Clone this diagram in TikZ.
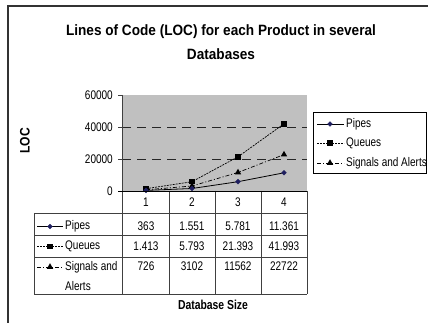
\documentclass[tikz,border=0pt]{standalone}
\usepackage{fontspec}
\setmainfont{Liberation Sans}
\usetikzlibrary{shapes.geometric}
\definecolor{framegray}{HTML}{333333}
\definecolor{plotgray}{HTML}{C0C0C0}
\definecolor{gridline}{HTML}{404040}
\definecolor{pipesblue}{HTML}{1F1F5F}
% chart text is set slightly taller than the font's natural proportions
\newcommand{\tallt}[1]{\scalebox{1}[1.25]{#1}}
\newcommand{\tallh}[1]{\scalebox{1}[1.1]{#1}}
\begin{document}
\begin{tikzpicture}[x=1pt,y=-1pt,
  txt/.style={font=\fontsize{10}{12}\selectfont, inner sep=0pt},
  boldtxt/.style={font=\bfseries\fontsize{10.4}{12}\selectfont, inner sep=0pt},
  titletxt/.style={font=\bfseries\fontsize{13.6}{16}\selectfont, inner sep=0pt},
  pipesline/.style={draw=black, line width=0.8pt},
  queuesline/.style={draw=black, line width=0.7pt, dash pattern=on 2pt off 1pt},
  signalsline/.style={draw=black, line width=0.7pt, dash pattern=on 4pt off 2pt on 1pt off 2pt},
  dmark/.style={diamond, fill=pipesblue, draw=pipesblue, inner sep=0pt, minimum size=5pt},
  smark/.style={rectangle, fill=black, inner sep=0pt, minimum size=5.5pt},
  tmark/.style={regular polygon, regular polygon sides=3, fill=black, inner sep=0pt, minimum size=7.5pt},
  tbl/.style={draw=gridline, line width=0.7pt}
]
\useasboundingbox (0,0) rectangle (429,323);

% outer chart frame
\coordinate (frameBL) at (8,323);
\coordinate (frameTL) at (8,6);
\coordinate (frameTR) at (428,6);
\draw[framegray, line width=2pt] (frameBL) -- (frameTL) -- (frameTR);

% title
\node[titletxt] (title1) at (221,32) {\tallh{Lines of Code (LOC) for each Product in several}};
\node[titletxt] (title2) at (221,54) {\tallh{Databases}};

% plot area
\fill[plotgray] (122,95) rectangle (307,191);
\coordinate (g40L) at (122,127); \coordinate (g40R) at (307,127);
\coordinate (g20L) at (122,159); \coordinate (g20R) at (307,159);
\draw[black!85, line width=0.8pt, dash pattern=on 9pt off 6pt] (g40L) -- (g40R);
\draw[black!85, line width=0.8pt, dash pattern=on 9pt off 6pt] (g20L) -- (g20R);

% value axis
\coordinate (axTop) at (122,95);
\coordinate (axBot) at (122,191);
\draw[gridline, line width=0.8pt] (axTop) -- (axBot);
\foreach \v/\yy in {60000/95, 40000/127, 20000/159, 0/191} {
  \draw[gridline, line width=0.8pt] (118,\yy) -- (122,\yy);
  \node[txt, anchor=east] (tick\v) at (113,\yy) {\tallt{\v}};
}
\node[boldtxt, rotate=90, font=\bfseries\fontsize{11}{12}\selectfont] (yaxislabel) at (25,141) {\scalebox{1.1}[1.25]{LOC}};

% data points
\coordinate (p1) at (146,190.4); \coordinate (p2) at (192,188.5);
\coordinate (p3) at (238,181.7); \coordinate (p4) at (284,172.8);
\coordinate (q1) at (146,188.7); \coordinate (q2) at (192,181.7);
\coordinate (q3) at (238,156.8); \coordinate (q4) at (284,123.8);
\coordinate (s1) at (146,189.8); \coordinate (s2) at (192,186.0);
\coordinate (s3) at (238,172.5); \coordinate (s4) at (284,154.6);

\draw[queuesline] (q1) -- (q2) -- (q3) -- (q4);
\draw[signalsline] (s1) -- (s2) -- (s3) -- (s4);
\draw[pipesline] (p1) -- (p2) -- (p3) -- (p4);
\foreach \i in {1,2,3,4} {
  \node[smark] at (q\i) {};
  \node[tmark] at (s\i) {};
  \node[dmark] at (p\i) {};
}

% data table
\draw[tbl] (122,191) -- (122,294);
\draw[tbl] (169,191) -- (169,294);
\draw[tbl] (215,191) -- (215,294);
\draw[tbl] (261,191) -- (261,294);
\draw[tbl] (307,191) -- (307,294);
\draw[tbl] (34,213) -- (34,294);
\draw[tbl] (34,213) -- (307,213);
\draw[tbl] (34,235) -- (307,235);
\draw[tbl] (34,257) -- (307,257);
\draw[tbl] (34,294) -- (307,294);
\draw[black, line width=0.9pt] (118,191) -- (307,191);

\foreach \n/\xx in {1/146, 2/192, 3/238, 4/284} {
  \node[txt] (head\n) at (\xx,202.5) {\tallt{\n}};
}
\foreach \n/\xx/\a/\b/\c in {1/146/363/1.413/726, 2/192/1.551/5.793/3102,
                             3/238/5.781/21.393/11562, 4/284/11.361/41.993/22722} {
  \node[txt] (pipes\n) at (\xx,226.5) {\tallt{\a}};
  \node[txt] (queues\n) at (\xx,246.5) {\tallt{\b}};
  \node[txt] (signals\n) at (\xx,266) {\tallt{\c}};
}

% row keys
\coordinate (kpA) at (37,226.5); \coordinate (kpB) at (63,226.5);
\coordinate (kqA) at (37,246.5); \coordinate (kqB) at (63,246.5);
\coordinate (ksA) at (37,267);   \coordinate (ksB) at (63,267);
\draw[pipesline] (kpA) -- (kpB);
\draw[queuesline] (kqA) -- (kqB);
\draw[signalsline] (ksA) -- (ksB);
\node[dmark] at (50,226.5) {};
\node[smark] at (50,246.5) {};
\node[tmark] at (50,267) {};
\node[txt, anchor=west] (rowPipes) at (65,226.5) {\tallt{Pipes}};
\node[txt, anchor=west] (rowQueues) at (65,246.5) {\tallt{Queues}};
\node[txt, anchor=west] (rowSignals) at (65,267) {\tallt{Signals and}};
\node[txt, anchor=west] (rowAlerts) at (65,286) {\tallt{Alerts}};

\node[boldtxt] (xaxislabel) at (213,305) {\tallt{Database Size}};

% legend
\draw[black, line width=0.7pt] (313,112) rectangle (426,173);
\coordinate (lpA) at (317,124); \coordinate (lpB) at (344,124);
\coordinate (lqA) at (317,143); \coordinate (lqB) at (344,143);
\coordinate (lsA) at (317,163); \coordinate (lsB) at (344,163);
\draw[pipesline] (lpA) -- (lpB);
\draw[queuesline] (lqA) -- (lqB);
\draw[signalsline] (lsA) -- (lsB);
\node[dmark] at (330,124) {};
\node[smark] at (330,143) {};
\node[tmark] at (330,163) {};
\node[txt, anchor=west] (legPipes) at (346,124) {\tallt{Pipes}};
\node[txt, anchor=west] (legQueues) at (346,143) {\tallt{Queues}};
\node[txt, anchor=west] (legSignals) at (346,163) {\tallt{Signals and Alerts}};
\end{tikzpicture}
\end{document}
